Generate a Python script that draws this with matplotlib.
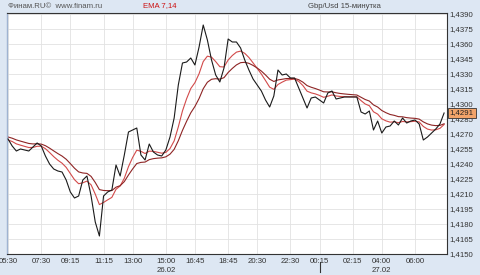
import numpy as np
import matplotlib
matplotlib.use("Agg")
import matplotlib.pyplot as plt
import matplotlib.transforms as mtransforms
from matplotlib.ticker import FuncFormatter

# GBP/USD 15-minute closes, 26.02 05:30 -> 27.02 ~07:15
close = [
    1.4265, 1.4258, 1.4253, 1.4255, 1.4254, 1.4253, 1.4257, 1.4261, 1.4258, 1.4248,
    1.4240, 1.4235, 1.4233, 1.4232, 1.4224, 1.4212, 1.4206, 1.4208, 1.4224, 1.4228,
    1.4208, 1.4182, 1.4168, 1.4208, 1.4212, 1.4214, 1.4239, 1.4228, 1.4249, 1.4272,
    1.4274, 1.4276, 1.4249, 1.4244, 1.4260, 1.4252, 1.4249, 1.4248, 1.4254, 1.4267,
    1.4286, 1.4319, 1.4341, 1.4342, 1.4346, 1.4339, 1.4357, 1.4379, 1.4364, 1.4344,
    1.4329, 1.4322, 1.4336, 1.4365, 1.4362, 1.4362, 1.4356, 1.4344, 1.4334, 1.4325,
    1.4319, 1.4313, 1.4304, 1.4297, 1.4308, 1.4334, 1.4329, 1.4330, 1.4326, 1.4326,
    1.4316, 1.4306, 1.4296, 1.4306, 1.4307, 1.4304, 1.4301, 1.4311, 1.4313, 1.4305,
    1.4306, 1.4307, 1.4307, 1.4307, 1.4307, 1.4292, 1.4290, 1.4293, 1.4274, 1.4283,
    1.4271, 1.4277, 1.4278, 1.4283, 1.4279, 1.4286, 1.4281, 1.4283, 1.4284, 1.4280,
    1.4264, 1.4267, 1.4271, 1.4275, 1.4280, 1.4291,
]

ema_periods = [7, 14]
ema_start = [1.4264, 1.4267]

tick_pos = [0, 8, 15, 23, 30, 38, 45, 53, 60, 68, 75, 83, 90, 98]
tick_labels = ["05:30", "07:30", "09:15", "11:15", "13:00", "15:00\n26.02", "16:45",
               "18:45", "20:30", "22:30", "00:15", "02:15", "04:00\n27.02", "06:00"]
day_break = 75

y_ticks = np.arange(14150, 14391, 15) / 10000


def ema(values, period, start):
    alpha = 2 / (period + 1)
    out = [start]
    for v in values[1:]:
        out.append(out[-1] + alpha * (v - out[-1]))
    return out


plt.rcParams['font.family'] = ['Liberation Sans', 'DejaVu Sans']

bg = '#dde7f3'
fig = plt.figure(figsize=(4.8, 2.75), dpi=100, facecolor=bg)
ax = fig.add_axes([7 / 480, 21 / 275, 440 / 480, 241 / 275])
ax.set_facecolor('white')

x = np.arange(len(close))
ax.plot(x, close, color='#1a1a1a', lw=0.8, zorder=3)
ax.plot(x, ema(close, ema_periods[0], ema_start[0]), color='#d24a4a', lw=0.8, zorder=2)
ax.plot(x, ema(close, ema_periods[1], ema_start[1]), color='#8e2424', lw=0.8, zorder=2)

ax.set_xlim(-0.25, len(close) - 0.3)
ax.set_ylim(1.4150, 1.4391)

ax.set_xticks(tick_pos)
ax.set_xticklabels(tick_labels)
ax.set_yticks(y_ticks)
ax.yaxis.set_major_formatter(FuncFormatter(lambda v, p: f"{v:.4f}".replace('.', ',')))
ax.yaxis.tick_right()
ax.tick_params(axis='both', length=0, labelsize=5.6, colors='#333333')
ax.tick_params(axis='y', pad=2)
ax.tick_params(axis='x', pad=3)
for lab in ax.get_xticklabels():
    lab.set_linespacing(1.3)

ax.grid(True, color='#e2e2e2', lw=0.6, zorder=0)

for side in ['top', 'right', 'bottom']:
    ax.spines[side].set_color('#333333')
    ax.spines[side].set_linewidth(0.8)
ax.spines['left'].set_color('#9fb3d1')
ax.spines['left'].set_linewidth(1.0)

# day separator below the axis
trans = mtransforms.blended_transform_factory(ax.transData, ax.transAxes)
ax.plot([day_break, day_break], [-0.033, -0.075], color='#333333', lw=0.8,
        transform=trans, clip_on=False)

# last value marker
ax.text(1.006, close[-1], f"{close[-1]:.4f}".replace('.', ','),
        transform=mtransforms.blended_transform_factory(ax.transAxes, ax.transData),
        ha='left', va='center', fontsize=5.6, color='#222222',
        bbox=dict(boxstyle='square,pad=0.25', facecolor='#f2a46a', edgecolor='#333333', lw=0.6))

# header texts
fig.text(8 / 480, 1 - 6 / 275, "Финам.RU©  www.finam.ru", fontsize=5.6, color='#555555',
         ha='left', va='center')
fig.text(160 / 480, 1 - 6 / 275, "EMA 7,14", fontsize=5.6, color='#cc1111',
         ha='center', va='center')
fig.text(344 / 480, 1 - 6 / 275, "Gbp/Usd 15-минутка", fontsize=5.6, color='#444444',
         ha='center', va='center')

fig.savefig('out.png', dpi=100, facecolor=bg)
